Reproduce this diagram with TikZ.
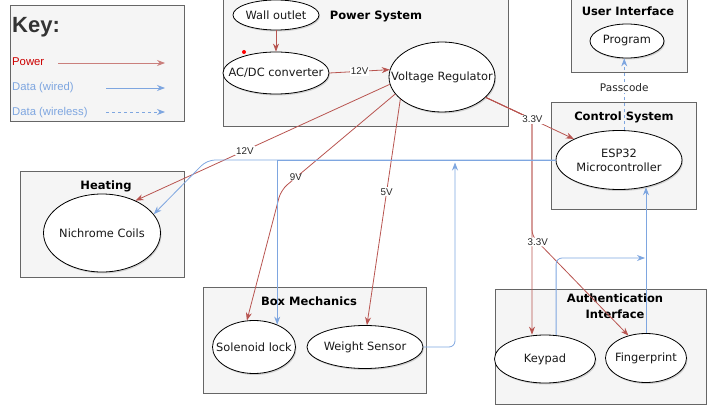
\documentclass[tikz,border=0pt]{standalone}
\usepackage{fontspec}
\setmainfont{DejaVu Sans}
\newfontfamily\arialfont{Liberation Sans}
\usetikzlibrary{shapes.geometric}
\usetikzlibrary{arrows.meta}
\usetikzlibrary{shadows}

\definecolor{powerRed}{HTML}{B85450}
\definecolor{dataBlue}{HTML}{7EA6E0}
\definecolor{boxFill}{HTML}{F5F5F5}
\definecolor{boxLine}{HTML}{666666}
\definecolor{keyRed}{HTML}{CC0000}

\begin{document}
\begin{tikzpicture}[x=1pt,y=-1pt,
        groupBox/.style = {draw=boxLine,fill=boxFill,line width=1pt,inner sep=0pt},
        ellNode/.style = {shape=ellipse,draw=black,fill=white,line width=0.8pt,inner xsep=-30pt,inner ysep=-8pt,align=center,text=black!90,
            font=\fontsize{11.4}{14}\selectfont,drop shadow={shadow xshift=1pt,shadow yshift=-1.5pt,opacity=0.3}}, % size fixed by minimum width/height
        titleText/.style = {font=\fontsize{11.5}{16}\selectfont\bfseries,align=center,inner sep=0pt},
        keyText/.style = {font=\arialfont\fontsize{11.3}{13}\selectfont,anchor=west,inner sep=0pt},
        powerLine/.style = {draw=powerRed,line width=0.8pt,-{Stealth[length=8pt,width=6pt]}},
        dataLine/.style = {draw=dataBlue,line width=0.8pt,-{Stealth[length=8pt,width=6pt]}},
        wirelessLine/.style = {dataLine,dash pattern=on 3pt off 3pt}, % dashed for wireless
        edgeLabel/.style = {font=\arialfont\fontsize{9.8}{11}\selectfont,fill=white,inner sep=1pt,text=black!85}
        ]
        \useasboundingbox (0,0) rectangle (720,417);

        % group boxes
        \node[groupBox,minimum width=174pt,minimum height=116pt] (keyBox) at (97,64) {};
        \node[groupBox,minimum width=285pt,minimum height=129pt] (powerBox) at (365.5,62.5) {};
        \node[groupBox,minimum width=116pt,minimum height=75pt] (uiBox) at (629,35.5) {};
        \node[groupBox,minimum width=145pt,minimum height=106pt] (ctrlBox) at (623.5,156) {};
        \node[groupBox,minimum width=164pt,minimum height=106pt] (heatBox) at (102,224) {};
        \node[groupBox,minimum width=223pt,minimum height=106pt] (mechBox) at (314.5,340) {};
        \node[groupBox,minimum width=211pt,minimum height=115pt] (authBox) at (600.5,346.5) {};

        \node[titleText] (powerTitle) at (376,16) {Power System};
        \node[titleText] (uiTitle) at (628,11) {User Interface};
        \node[titleText] (ctrlTitle) at (624,117) {Control System};
        \node[titleText] (heatTitle) at (106,186) {Heating};
        \node[titleText] (mechTitle) at (309,301) {Box Mechanics};
        \node[titleText] (authTitle) at (615,306) {Authentication\\Interface};

        % key
        \node[keyText,font=\arialfont\bfseries\fontsize{22}{24}\selectfont,text=black!80] (keyTitle) at (12,27) {Key:};
        \node[keyText,text=keyRed] (keyPower) at (12,62) {Power};
        \node[keyText,text=dataBlue] (keyWired) at (12,88) {Data (wired)};
        \node[keyText,text=dataBlue] (keyWireless) at (12,113) {Data (wireless)};
        \coordinate (powerFrom) at (58,63);
        \coordinate (powerTo) at (165,63);
        \coordinate (wiredFrom) at (106,88);
        \coordinate (wiredTo) at (165,88);
        \coordinate (wirelessFrom) at (106,112);
        \coordinate (wirelessTo) at (165,112);
        \draw[powerLine,draw=powerRed!75] (powerFrom) -- (powerTo);
        \draw[dataLine] (wiredFrom) -- (wiredTo);
        \draw[wirelessLine] (wirelessFrom) -- (wirelessTo);

        % parts
        \node[ellNode,minimum width=86pt,minimum height=30pt] (wall) at (276,15) {Wall outlet};
        \node[ellNode,minimum width=106pt,minimum height=42pt] (acdc) at (276,73) {AC/DC converter};
        \node[ellNode,minimum width=106pt,minimum height=70pt] (vreg) at (442,77) {Voltage Regulator};
        \node[ellNode,minimum width=74pt,minimum height=34pt] (prog) at (627,41) {Program};
        \node[ellNode,minimum width=126pt,minimum height=59pt] (esp) at (619,160) {ESP32\\Microcontroller};
        \node[ellNode,minimum width=117pt,minimum height=78pt] (coils) at (102,233) {Nichrome Coils};
        \node[ellNode,minimum width=83pt,minimum height=53pt] (sol) at (254,347) {Solenoid lock};
        \node[ellNode,minimum width=116pt,minimum height=43pt] (weight) at (365,347) {Weight Sensor};
        \node[ellNode,minimum width=101pt,minimum height=48pt] (keypad) at (545,359) {Keypad};
        \node[ellNode,minimum width=81pt,minimum height=49pt] (finger) at (646,358) {Fingerprint};
        \node[circle,fill=red,inner sep=0pt,minimum size=4pt] (dot) at (244,52) {};

        % bends
        \coordinate (bend9) at (281,190);
        \coordinate (tap33) at (532,119);
        \coordinate (bend33) at (532,236);
        \coordinate (bendHeat) at (207,160);
        \coordinate (wireJoin) at (455,162.5);
        \coordinate (fingerJoin) at (645,258);

        % power
        \draw[powerLine] (wall.south) -- (acdc.north);
        \draw[powerLine] (acdc.east) -- node[edgeLabel]{12V} (vreg.172);
        \draw[powerLine] (vreg.188) -- node[edgeLabel,pos=0.57]{12V} (coils.44);
        \draw[powerLine,rounded corners=8pt] (vreg.200) -- node[edgeLabel,pos=0.87]{9V} (bend9) -- (sol.105);
        \draw[powerLine] (vreg.208) -- node[edgeLabel,pos=0.41]{5V} (weight.85);
        \draw[powerLine] (vreg.335) -- (tap33) -- (tap33 |- keypad.north);
        \draw[powerLine,rounded corners=6pt] (vreg.335) -- (tap33) -- (bend33) -- node[edgeLabel,pos=0.06]{3.3V} (finger.128);
        \draw[powerLine] (vreg.335) -- node[edgeLabel,pos=0.53]{3.3V} (esp.155);

        % data
        \draw[dataLine,rounded corners=8pt] (esp.west) -- (bendHeat) -- (coils.20);
        \draw[dataLine] (esp.west) -| (sol.44);
        \draw[dataLine,rounded corners=6pt] (weight.east) -| (wireJoin);
        \draw[dataLine,rounded corners=6pt] (keypad.65) |- (fingerJoin);
        \draw[dataLine] (finger.north) -- (finger.north |- esp.314);
        \draw[wirelessLine] (esp.80) -- node[edgeLabel,pos=0.59,font=\fontsize{10.5}{12}\selectfont]{Passcode} (esp.80 |- prog.south);
    \end{tikzpicture}
\end{document}
